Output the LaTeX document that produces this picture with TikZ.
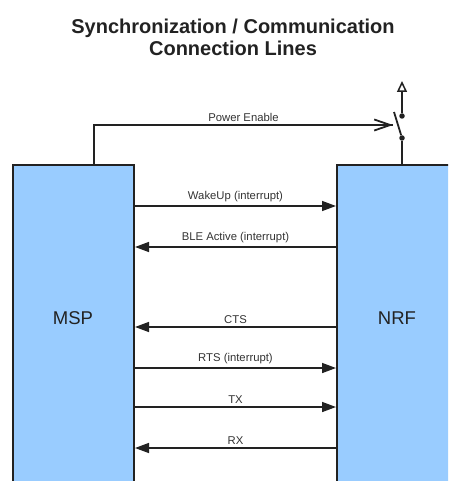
\documentclass[tikz,border=0pt]{standalone}
\usepackage{fontspec}
\setmainfont{Liberation Sans}
\usetikzlibrary{arrows.meta}
\definecolor{boxfill}{HTML}{99CCFF}
\definecolor{ink}{HTML}{222222}
\definecolor{lbl}{HTML}{333333}
\begin{document}
\begin{tikzpicture}[x=1pt,y=-1pt,
  chip/.style={draw=ink, line width=2pt, fill=boxfill, inner sep=0pt},
  chiptext/.style={font=\fontsize{18.5}{20}\selectfont, text=ink},
  wire/.style={draw=ink, line width=1.5pt},
  sig/.style={wire, -{Triangle[length=14pt,width=10pt]}},
  siglbl/.style={font=\fontsize{11.3}{13}\selectfont, text=lbl, above=3pt, midway, inner sep=0pt},
  dot/.style={circle, fill=ink, inner sep=0pt, minimum size=5.5pt}]
\useasboundingbox (0,0) rectangle (448,481);
\clip (0,0) rectangle (448,481);
\node[font=\bfseries\fontsize{20}{22}\selectfont, text=ink, align=center] (title) at (233,37)
  {Synchronization / Communication\\Connection Lines};
\node[chip, minimum width=121pt, minimum height=340pt] (msp) at (73.5,335) {};
\node[chip, minimum width=140pt, minimum height=340pt] (nrf) at (407,335) {};
\node[chiptext] (msplbl) at (73,318) {MSP};
\node[chiptext] (nrflbl) at (397,318) {NRF};
% power enable switch
\coordinate (pwrup) at (94,125);
\coordinate (chev) at (393,125);
\node[dot] (swtop) at (402,116) {};
\node[dot] (swbot) at (402,138) {};
\coordinate (blade) at (394,112);
\coordinate (vcc) at (402,81);
\draw[wire] (msp.north -| pwrup) -- (pwrup) -- node[siglbl]{Power Enable} (chev);
\draw[wire, -{Straight Barb[length=16pt,width=11pt,line width=1.8pt]}] (360,125) -- (chev);
\draw[wire, line width=1.8pt] (swbot) -- (blade);
\draw[wire] (nrf.north -| swbot) -- (swbot);
\draw[wire, line width=1.5pt, -{Triangle[open,length=11pt,width=10pt]}] (swtop) -- (vcc);
% signals
\draw[sig] (msp.east |- 0,206) -- node[siglbl]{WakeUp (interrupt)} (nrf.west |- 0,206);
\draw[sig] (nrf.west |- 0,247) -- node[siglbl]{BLE Active (interrupt)} (msp.east |- 0,247);
\draw[sig] (nrf.west |- 0,327) -- node[siglbl]{CTS} (msp.east |- 0,327);
\draw[sig] (msp.east |- 0,368) -- node[siglbl]{RTS (interrupt)} (nrf.west |- 0,368);
\draw[sig] (msp.east |- 0,407) -- node[siglbl]{TX} (nrf.west |- 0,407);
\draw[sig] (nrf.west |- 0,448) -- node[siglbl]{RX} (msp.east |- 0,448);
\end{tikzpicture}
\end{document}
